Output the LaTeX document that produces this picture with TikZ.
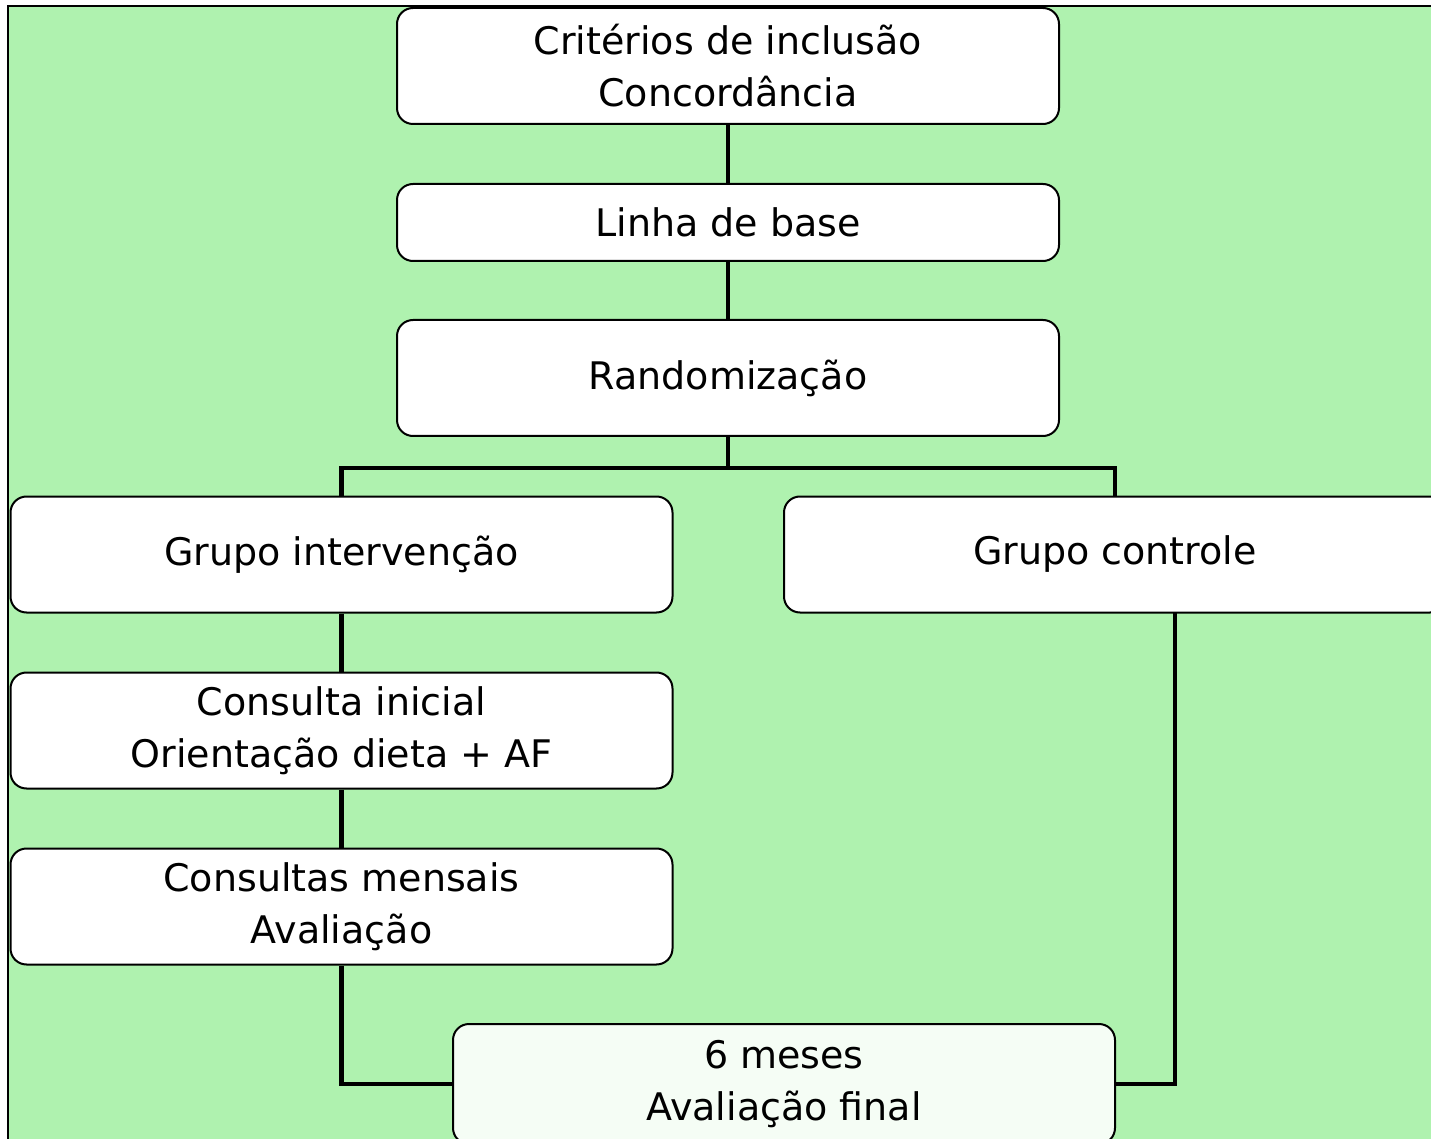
\documentclass[tikz,border=0pt]{standalone}
\usepackage{fontspec}
\setmainfont{DejaVu Sans}
\usepackage{tikz}

\definecolor{bggreen}{RGB}{175,242,175}
\tikzset{
  box/.style={draw, rounded corners=8pt, fill=white, line width=1pt, align=center,
    minimum width=331pt, minimum height=58pt, inner sep=0pt,
    font=\fontsize{19}{26}\selectfont},
  link/.style={line width=2.4pt}
}

\begin{document}
\begin{tikzpicture}[x=0.5pt,y=-0.5pt]
    \useasboundingbox (0,0) rectangle (1431,1139);
    \clip (0,0) rectangle (1431,1139);
    \fill[bggreen] (8,6) rectangle (1440,1150);
    \draw[line width=1.2pt] (8,1150) -- (8,6) -- (1440,6);

    \node at (728,66) [box] (crit) {Critérios de inclusão\\Concordância};
    \node at (728,222.5) [box,minimum height=38.5pt] (linha) {Linha de base};
    \node at (728,378) [box] (rand) {Randomização};
    \node at (341.5,554.5) [box] (interv) {Grupo intervenção};
    \node at (1115,554.5) [box] (ctrl) {Grupo controle};
    \node at (341.5,730.5) [box] (inicial) {Consulta inicial\\Orientação dieta + AF};
    \node at (341.5,906.5) [box] (mensais) {Consultas mensais\\Avaliação};
    \node at (784,1084) [box,minimum height=60pt,fill=bggreen!12!white] (final) {6 meses\\Avaliação final};

    \coordinate (split) at (728,468);
    \coordinate (ctrlout) at (1175,613);

    \draw[link] (crit) -- (linha) -- (rand) -- (split);
    \draw[link] (split) -| (interv.north) (split) -| (ctrl.north);
    \draw[link] (interv) -- (inicial) -- (mensais);
    \draw[link] (mensais.south) |- (final.west) (ctrlout) |- (final.east);
\end{tikzpicture}
\end{document}
